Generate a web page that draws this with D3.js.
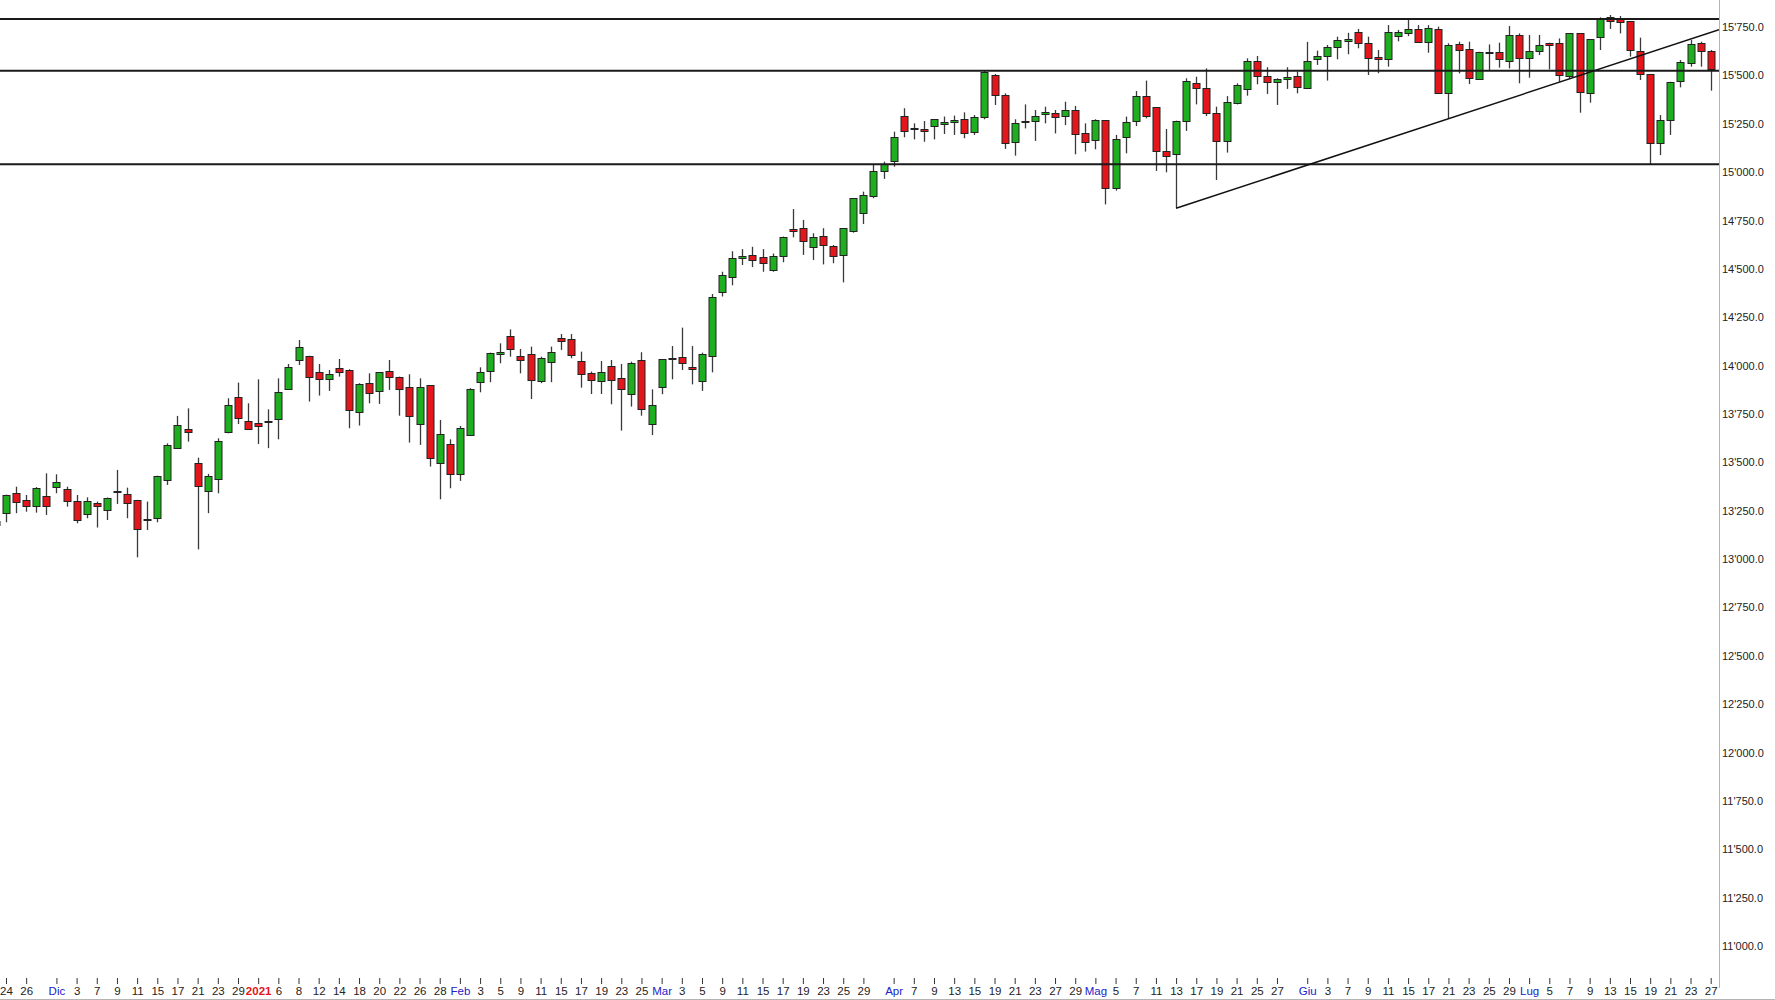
<!DOCTYPE html>
<html>
<head>
<meta charset="utf-8">
<script src="https://cdn.jsdelivr.net/npm/d3@7"></script>
<style>
body { margin: 0; background: #fff; }
</style>
</head>
<body>
<script>
// giorni di borsa (categorie)
var dates = [
    "2020-11-23","2020-11-24","2020-11-25","2020-11-26","2020-11-27","2020-11-30",
    "2020-12-01","2020-12-02","2020-12-03","2020-12-04","2020-12-07","2020-12-08","2020-12-09","2020-12-10","2020-12-11",
    "2020-12-14","2020-12-15","2020-12-16","2020-12-17","2020-12-18","2020-12-21","2020-12-22","2020-12-23","2020-12-28","2020-12-29","2020-12-30",
    "2021-01-04","2021-01-05","2021-01-06","2021-01-07","2021-01-08","2021-01-11","2021-01-12","2021-01-13","2021-01-14","2021-01-15",
    "2021-01-18","2021-01-19","2021-01-20","2021-01-21","2021-01-22","2021-01-25","2021-01-26","2021-01-27","2021-01-28","2021-01-29",
    "2021-02-01","2021-02-02","2021-02-03","2021-02-04","2021-02-05","2021-02-08","2021-02-09","2021-02-10","2021-02-11","2021-02-12",
    "2021-02-15","2021-02-16","2021-02-17","2021-02-18","2021-02-19","2021-02-22","2021-02-23","2021-02-24","2021-02-25","2021-02-26",
    "2021-03-01","2021-03-02","2021-03-03","2021-03-04","2021-03-05","2021-03-08","2021-03-09","2021-03-10","2021-03-11","2021-03-12",
    "2021-03-15","2021-03-16","2021-03-17","2021-03-18","2021-03-19","2021-03-22","2021-03-23","2021-03-24","2021-03-25","2021-03-26",
    "2021-03-29","2021-03-30","2021-03-31",
    "2021-04-01","2021-04-06","2021-04-07","2021-04-08","2021-04-09","2021-04-12","2021-04-13","2021-04-14","2021-04-15","2021-04-16",
    "2021-04-19","2021-04-20","2021-04-21","2021-04-22","2021-04-23","2021-04-26","2021-04-27","2021-04-28","2021-04-29","2021-04-30",
    "2021-05-03","2021-05-04","2021-05-05","2021-05-06","2021-05-07","2021-05-10","2021-05-11","2021-05-12","2021-05-13","2021-05-14",
    "2021-05-17","2021-05-18","2021-05-19","2021-05-20","2021-05-21","2021-05-24","2021-05-25","2021-05-26","2021-05-27","2021-05-28","2021-05-31",
    "2021-06-01","2021-06-02","2021-06-03","2021-06-04","2021-06-07","2021-06-08","2021-06-09","2021-06-10","2021-06-11",
    "2021-06-14","2021-06-15","2021-06-16","2021-06-17","2021-06-18","2021-06-21","2021-06-22","2021-06-23","2021-06-24","2021-06-25",
    "2021-06-28","2021-06-29","2021-06-30",
    "2021-07-01","2021-07-02","2021-07-05","2021-07-06","2021-07-07","2021-07-08","2021-07-09","2021-07-12","2021-07-13","2021-07-14",
    "2021-07-15","2021-07-16","2021-07-19","2021-07-20","2021-07-21","2021-07-22","2021-07-23","2021-07-26","2021-07-27"
];

// open, high, low, close (stessa posizione di dates)
var ohlc = [
    [13176,13230,13140,13195],[13237,13333,13190,13331],[13340,13374,13237,13293],[13306,13331,13245,13276],[13276,13372,13240,13369],[13326,13443,13228,13276],
    [13369,13438,13340,13397],[13364,13374,13271,13300],[13300,13331,13185,13202],[13231,13319,13211,13300],[13290,13297,13163,13276],[13254,13318,13202,13314],
    [13345,13461,13285,13350],[13335,13369,13211,13288],[13306,13306,13009,13154],[13209,13297,13150,13202],[13216,13431,13190,13431],[13409,13598,13383,13591],
    [13576,13740,13573,13693],[13671,13779,13607,13653],[13495,13524,13050,13374],[13349,13440,13237,13428],[13414,13624,13340,13609],[13659,13831,13650,13796],
    [13836,13912,13698,13728],[13716,13805,13671,13676],
    [13702,13929,13595,13684],[13716,13774,13573,13710],[13728,13934,13619,13865],[13879,14008,13874,13995],[14032,14132,14003,14098],[14051,14051,13814,13943],
    [13965,14008,13845,13931],[13931,13977,13869,13955],[13989,14034,13943,13970],[13977,13981,13676,13771],[13760,13909,13690,13905],[13909,13960,13805,13857],
    [13869,13965,13802,13965],[13972,14029,13874,13943],[13943,13943,13741,13879],[13891,13955,13602,13740],[13698,13934,13590,13891],[13898,13898,13478,13523],
    [13495,13719,13309,13647],[13595,13619,13366,13438],
    [13438,13688,13404,13676],[13641,13883,13641,13878],[13914,13991,13862,13965],[13974,14067,13914,14067],[14057,14115,14012,14069],[14155,14187,14046,14086],
    [14051,14086,13960,14029],[14058,14098,13827,13926],[13921,14046,13909,14038],[14020,14098,13914,14072],[14141,14163,14081,14124],[14136,14163,14038,14051],
    [14024,14072,13886,13955],[13964,13969,13853,13926],[13921,14024,13853,13965],[14000,14029,13800,13926],[13934,14008,13664,13879],[13857,14020,13788,14015],
    [14029,14069,13741,13776],[13698,13877,13641,13797],
    [13891,14034,13852,14034],[14034,14101,13929,14040],[14046,14196,13977,14017],[13995,14101,13903,13983],[13921,14067,13869,14058],[14051,14370,13965,14357],
    [14380,14485,14357,14468],[14456,14591,14415,14555],[14555,14602,14520,14567],[14573,14614,14509,14549],[14561,14602,14485,14532],[14497,14579,14485,14567],
    [14568,14667,14534,14667],[14706,14809,14663,14694],[14710,14753,14572,14644],[14615,14684,14546,14667],[14672,14710,14523,14627],[14620,14623,14529,14568],
    [14568,14710,14430,14710],[14697,14865,14687,14865],[14790,14899,14732,14882],[14877,15042,14865,15008],[15006,15054,14965,15040],
    [15059,15209,15028,15183],[15292,15330,15180,15212],[15221,15252,15169,15228],[15223,15264,15157,15212],[15235,15273,15169,15273],[15245,15287,15197,15257],
    [15257,15292,15192,15269],[15274,15309,15175,15200],[15206,15295,15192,15283],[15283,15524,15273,15516],[15502,15507,15347,15399],[15399,15407,15120,15149],
    [15154,15273,15085,15252],[15264,15350,15226,15257],[15264,15321,15161,15290],[15304,15338,15252,15312],[15304,15321,15200,15283],[15292,15364,15243,15321],
    [15321,15342,15092,15195],[15200,15252,15106,15154],
    [15166,15273,15118,15269],[15269,15269,14833,14916],[14916,15192,14904,15171],[15178,15287,15097,15257],[15264,15419,15238,15393],[15393,15473,15278,15290],
    [15335,15335,15006,15109],[15109,15223,14999,15085],[15097,15266,14813,15266],[15264,15485,15213,15473],[15459,15493,15350,15433],[15433,15536,15290,15304],
    [15304,15338,14959,15161],[15161,15393,15101,15361],[15355,15459,15350,15450],[15428,15588,15395,15574],[15574,15600,15454,15497],[15497,15542,15404,15464],
    [15464,15485,15347,15480],[15480,15542,15430,15490],[15497,15519,15407,15438],
    [15438,15673,15438,15576],[15583,15628,15554,15600],[15600,15657,15473,15645],[15645,15700,15583,15681],[15679,15720,15609,15690],[15725,15740,15640,15669],
    [15669,15700,15502,15593],[15593,15631,15511,15584],[15588,15760,15545,15726],[15704,15735,15676,15724],[15717,15786,15703,15738],[15740,15760,15674,15674],
    [15674,15760,15617,15747],[15740,15752,15411,15411],[15411,15666,15278,15657],[15662,15674,15510,15631],[15636,15674,15455,15485],[15481,15622,15481,15619],
    [15614,15660,15528,15619],[15619,15669,15540,15583],[15574,15755,15536,15709],[15709,15717,15459,15588],
    [15592,15709,15488,15628],[15628,15709,15605,15657],[15669,15669,15531,15660],[15666,15691,15467,15502],[15493,15717,15485,15717],[15717,15717,15307,15411],
    [15411,15688,15359,15688],[15695,15800,15631,15795],[15803,15812,15740,15781],[15791,15807,15717,15774],[15781,15781,15597,15631],[15626,15695,15476,15507],
    [15507,15507,15042,15149],[15152,15295,15088,15269],[15269,15467,15192,15467],[15467,15579,15438,15567],[15562,15683,15545,15662],[15669,15674,15545,15626],
    [15628,15631,15421,15533]
];

// livelli orizzontali e trendline
var levels = [15791, 15524, 15040];
var trendDates = ["2021-05-13", "2021-07-27"];
var trendValues = [14813, 15722];

// etichette assi
var yTicks = [11000, 11250, 11500, 11750, 12000, 12250, 12500, 12750, 13000, 13250, 13500, 13750,
              14000, 14250, 14500, 14750, 15000, 15250, 15500, 15750];
var xTickDates = [
    "2020-11-24","2020-11-26",
    "2020-12-01","2020-12-03","2020-12-07","2020-12-09","2020-12-11","2020-12-15","2020-12-17","2020-12-21","2020-12-23","2020-12-29",
    "2021-01-04","2021-01-06","2021-01-08","2021-01-12","2021-01-14","2021-01-18","2021-01-20","2021-01-22","2021-01-26","2021-01-28",
    "2021-02-01","2021-02-03","2021-02-05","2021-02-09","2021-02-11","2021-02-15","2021-02-17","2021-02-19","2021-02-23","2021-02-25",
    "2021-03-01","2021-03-03","2021-03-05","2021-03-09","2021-03-11","2021-03-15","2021-03-17","2021-03-19","2021-03-23","2021-03-25","2021-03-29",
    "2021-04-01","2021-04-07","2021-04-09","2021-04-13","2021-04-15","2021-04-19","2021-04-21","2021-04-23","2021-04-27","2021-04-29",
    "2021-05-03","2021-05-05","2021-05-07","2021-05-11","2021-05-13","2021-05-17","2021-05-19","2021-05-21","2021-05-25","2021-05-27",
    "2021-06-01","2021-06-03","2021-06-07","2021-06-09","2021-06-11","2021-06-15","2021-06-17","2021-06-21","2021-06-23","2021-06-25","2021-06-29",
    "2021-07-01","2021-07-05","2021-07-07","2021-07-09","2021-07-13","2021-07-15","2021-07-19","2021-07-21","2021-07-23","2021-07-27"
];
var monthNames = ["Gen","Feb","Mar","Apr","Mag","Giu","Lug","Ago","Set","Ott","Nov","Dic"];

var width = 1775;
var height = 1000;
var plotRight = 1719;    // bordo asse dei prezzi
var plotBottom = 988;

var svg = d3.select("body").append("svg")
    .attr("width", width)
    .attr("height", height)
    .style("display", "block");

svg.append("rect").attr("width", width).attr("height", height).attr("fill", "#fff");

var x = d3.scalePoint()
    .domain(dates)
    .range([-4.1, 1710.7]);

var y = d3.scaleLinear()
    .domain([11000, 15750])
    .range([946, 27]);

svg.append("clipPath").attr("id", "clip")
    .append("rect").attr("x", 0).attr("y", 0).attr("width", plotRight).attr("height", plotBottom);

var plot = svg.append("g").attr("clip-path", "url(#clip)");

var data = dates.map(function (d, i) {
    return {date: d, o: ohlc[i][0], h: ohlc[i][1], l: ohlc[i][2], c: ohlc[i][3]};
});

//STOPPINI
plot.selectAll("line.wick")
    .data(data)
    .enter()
    .append("line")
    .attr("class", "wick")
    .attr("x1", function (d) { return Math.round(x(d.date)) + 0.5; })
    .attr("x2", function (d) { return Math.round(x(d.date)) + 0.5; })
    .attr("y1", function (d) { return y(d.h); })
    .attr("y2", function (d) { return y(d.l); })
    .attr("stroke", "#3a3a3a")
    .attr("stroke-width", 1.3);

//CORPI
plot.selectAll("rect.body")
    .data(data)
    .enter()
    .append("rect")
    .attr("class", "body")
    .attr("x", function (d) { return Math.round(x(d.date)) - 3; })
    .attr("y", function (d) { return Math.round(y(Math.max(d.o, d.c))) + 0.5; })
    .attr("width", 7)
    .attr("height", function (d) { return Math.max(1, Math.round(Math.abs(y(d.o) - y(d.c)))); })
    .attr("fill", function (d) { return d.c >= d.o ? "#1fae1f" : "#e3161b"; })
    .attr("stroke", "#222")
    .attr("stroke-width", 1);

//LIVELLI
plot.selectAll("line.level")
    .data(levels)
    .enter()
    .append("line")
    .attr("class", "level")
    .attr("x1", 0)
    .attr("x2", plotRight)
    .attr("y1", function (d) { return y(d); })
    .attr("y2", function (d) { return y(d); })
    .attr("stroke", "#1a1a1a")
    .attr("stroke-width", 2);

//TRENDLINE
var tx1 = x(trendDates[0]), ty1 = y(trendValues[0]);
var tx2 = x(trendDates[1]), ty2 = y(trendValues[1]);
var tyEnd = ty1 + (ty2 - ty1) * (plotRight - tx1) / (tx2 - tx1);
plot.append("line")
    .attr("x1", tx1)
    .attr("y1", ty1)
    .attr("x2", plotRight)
    .attr("y2", tyEnd)
    .attr("stroke", "#111")
    .attr("stroke-width", 1.5);

// bordi
svg.append("line")
    .attr("x1", plotRight + 0.5).attr("x2", plotRight + 0.5)
    .attr("y1", 0).attr("y2", plotBottom)
    .attr("stroke", "#b4b4b4");
svg.append("line")
    .attr("x1", 0).attr("x2", width)
    .attr("y1", height - 0.5).attr("y2", height - 0.5)
    .attr("stroke", "#b4b4b4");

//ASSE Y
var fmt = d3.formatLocale({decimal: ".", thousands: "'", grouping: [3], currency: ["", ""]}).format(",.1f");

var yAxis = svg.append("g")
    .attr("transform", "translate(" + plotRight + ",0)")
    .call(d3.axisRight(y).tickValues(yTicks).tickSize(0).tickPadding(3).tickFormat(fmt));
yAxis.select(".domain").remove();
yAxis.selectAll("text")
    .attr("font-family", "'Liberation Sans', Arial, sans-serif")
    .attr("font-size", 11)
    .attr("fill", "#222");

//ASSE X
function xLabel(d) {
    var i = dates.indexOf(d);
    var cur = d3.timeParse("%Y-%m-%d")(d);
    var prev = i > 0 ? d3.timeParse("%Y-%m-%d")(dates[i - 1]) : null;
    if (prev && prev.getMonth() !== cur.getMonth()) {
        return cur.getMonth() === 0 ? String(cur.getFullYear()) : monthNames[cur.getMonth()];
    }
    return String(cur.getDate());
}

var xAxis = svg.append("g")
    .attr("transform", "translate(0,978)")
    .call(d3.axisBottom(x).tickValues(xTickDates).tickSizeInner(6).tickSizeOuter(0).tickPadding(3).tickFormat(xLabel));
xAxis.select(".domain").remove();
xAxis.selectAll(".tick line").attr("stroke", "#333");
xAxis.selectAll("text")
    .attr("font-family", "'Liberation Sans Narrow', 'Arial Narrow', sans-serif")
    .attr("font-size", 11.5)
    .attr("fill", function (d) {
        var l = xLabel(d);
        if (/^\d{4}$/.test(l)) return "#e3161b";
        if (/^\d+$/.test(l)) return "#222";
        return "#2222c8";
    })
    .attr("font-weight", function (d) { return /^\d{4}$/.test(xLabel(d)) ? "bold" : "normal"; });
</script>
</body>
</html>
